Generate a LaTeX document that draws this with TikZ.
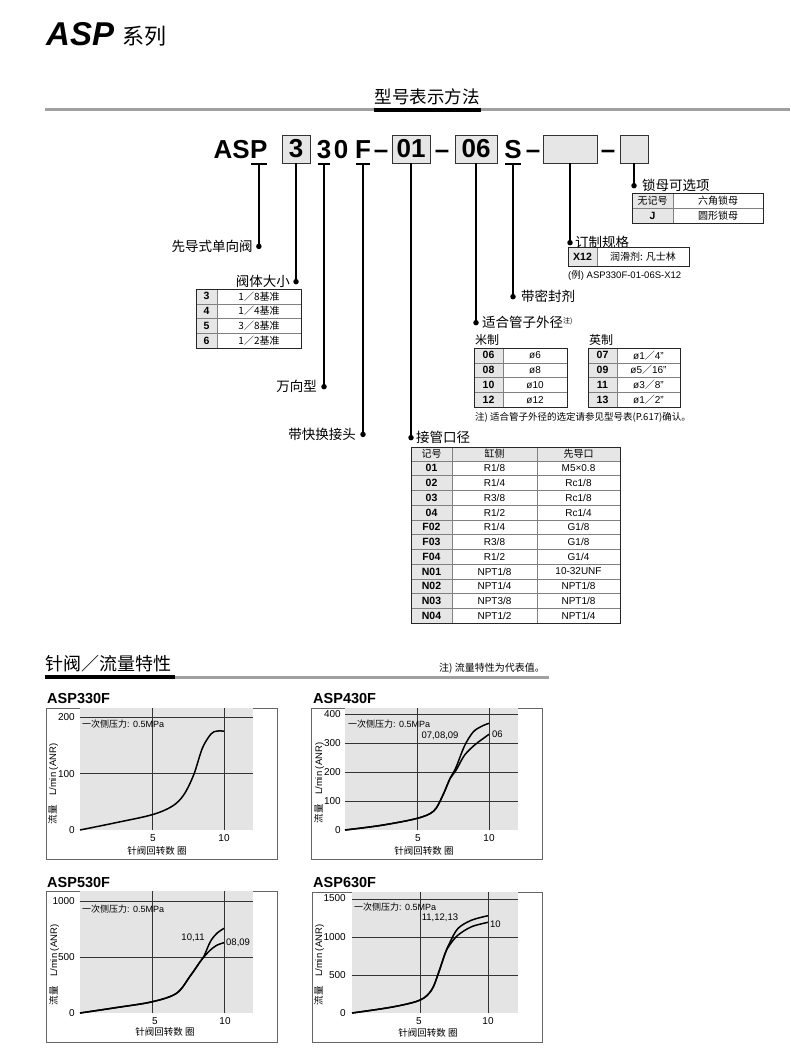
\documentclass[tikz,border=0pt]{standalone}
\usepackage{fontspec}
\setmainfont{Liberation Sans}
\newfontfamily\cjk{Noto Sans CJK SC}
\usetikzlibrary{positioning}
\definecolor{boxGray}{RGB}{230,230,230}
\definecolor{plotGray}{RGB}{228,228,228}
\definecolor{ruleGray}{RGB}{160,160,160}
\newcommand\fsz[1]{\fontsize{#1}{#1}\selectfont}

\begin{document}
\begin{tikzpicture}[x=1pt, y=-1pt,
        codeChar/.style={font=\fsz{26}\bfseries, inner sep=0pt, anchor=base},
        codeBox/.style={draw=black!80, fill=boxGray, line width=0.9pt, minimum height=28pt, inner sep=0pt, font=\fsz{26}\bfseries},
        tagDot/.style={circle, fill=black, inner sep=0pt, minimum size=5.5pt},
        leaderLine/.style={line width=1.6pt},
        tagLabel/.style={font=\cjk\fsz{13.5}, inner sep=1pt},
        cellText/.style={font=\fsz{10}, inner sep=0pt},
        cellBold/.style={font=\fsz{10.5}\bfseries, inner sep=0pt},
        cellCjk/.style={font=\cjk\fsz{10}, inner sep=0pt},
        tabOuter/.style={line width=0.9pt, draw=black!85},
        tabInner/.style={line width=0.5pt, draw=black!50},
        plotFrame/.style={line width=0.7pt, draw=black!60},
        gridLine/.style={line width=0.9pt, draw=black!80},
        flowCurve/.style={line width=1.5pt, line join=round},
        tickLabel/.style={font=\fsz{10}, inner sep=0pt},
        chartTitle/.style={font=\fsz{14.5}\bfseries, inner sep=0pt, anchor=base west},
        chartNote/.style={font=\fsz{9}, inner sep=0pt}
    ]
    \useasboundingbox (0,0) rectangle (790,1062);

    % page header
    \node[anchor=base west, inner sep=0pt] (hdrASP) at (46,46) {\fsz{33}\bfseries\itshape ASP};
    \node[anchor=base west, inner sep=0pt] (hdrSeries) at (122,45) {\cjk\fsz{22}系列};

    % how to order
    \node[font=\cjk\fsz{17.5}, inner sep=0pt] (secCode) at (427,97) {型号表示方法};
    \draw[ruleGray, line width=3pt] (45,110) -- (790,110);
    \draw[line width=4pt] (374,110) -- (481,110);

    \node[codeChar, anchor=base east] (cAS) at (250,158.5) {AS};
    \node[codeChar, anchor=base west] (cP) at (250,158.5) {P};
    \node[codeBox, minimum width=28pt] (b3) at (296,149) {3};
    \node[codeChar] (c3) at (324,158.5) {3};
    \node[codeChar] (c0) at (341,158.5) {0};
    \node[codeChar] (cF) at (363,158.5) {F};
    \node[codeChar] (dash1) at (381,158.5) {–};
    \node[codeBox, minimum width=38pt] (b01) at (411,149) {01};
    \node[codeChar] (dash2) at (442,158.5) {–};
    \node[codeBox, minimum width=42pt] (b06) at (476,149) {06};
    \node[codeChar] (cS) at (513,158.5) {S};
    \node[codeChar] (dash3) at (533,158.5) {–};
    \node[codeBox, minimum width=54pt] (bSpec) at (570,149) {};
    \node[codeChar] (dash4) at (608,158.5) {–};
    \node[codeBox, minimum width=28pt] (bNut) at (634,149) {};

    \draw[leaderLine] ([xshift=1pt,yshift=-5pt]cP.south west) -- ([xshift=-1pt,yshift=-5pt]cP.south east);
    \draw[leaderLine] ([xshift=1pt,yshift=-5pt]c3.south west) -- ([xshift=-1pt,yshift=-5pt]c3.south east);
    \draw[leaderLine] ([xshift=1pt,yshift=-5pt]cF.south west) -- ([xshift=-1pt,yshift=-5pt]cF.south east);
    \draw[leaderLine] ([xshift=1pt,yshift=-5pt]cS.south west) -- ([xshift=-1pt,yshift=-5pt]cS.south east);

    \node[tagDot, below=84.75pt of cP] (dPilot) {};
    \node[tagDot, below=115.25pt of b3] (dSize) {};
    \node[tagDot, below=224.75pt of c3] (dType) {};
    \node[tagDot, below=272.75pt of cF] (dFit) {};
    \node[tagDot, below=271.25pt of b01] (dPort) {};
    \node[tagDot, below=156.25pt of b06] (dTube) {};
    \node[tagDot, below=134.75pt of cS] (dSeal) {};
    \node[tagDot, below=76.25pt of bSpec] (dSpec) {};
    \node[tagDot, below=19.25pt of bNut] (dNut) {};

    \draw[leaderLine] ([yshift=-5pt]cP.south) -- (dPilot.center);
    \draw[leaderLine] (b3.south) -- (dSize.center);
    \draw[leaderLine] ([yshift=-5pt]c3.south) -- (dType.center);
    \draw[leaderLine] ([yshift=-5pt]cF.south) -- (dFit.center);
    \draw[leaderLine] (b01.south) -- (dPort.center);
    \draw[leaderLine] (b06.south) -- (dTube.center);
    \draw[leaderLine] ([yshift=-5pt]cS.south) -- (dSeal.center);
    \draw[leaderLine] (bSpec.south) -- (dSpec.center);
    \draw[leaderLine] (bNut.south) -- (dNut.center);

    \node[tagLabel, left=2pt of dPilot] (lPilot) {先导式单向阀};
    \node[tagLabel, left=2pt of dSize] (lSize) {阀体大小};
    \node[tagLabel, left=3pt of dType] (lType) {万向型};
    \node[tagLabel, left=3pt of dFit] (lFit) {带快换接头};
    \node[tagLabel, right=1pt of dPort] (lPort) {接管口径};
    \node[tagLabel, right=2pt of dTube] (lTube) {适合管子外径\raisebox{4pt}{\fsz{7}注)}};
    \node[tagLabel, right=4pt of dSeal] (lSeal) {带密封剂};
    \node[tagLabel, right=1pt of dSpec] (lSpec) {订制规格};
    \node[tagLabel, right=4pt of dNut] (lNut) {锁母可选项};

    % valve size table
    \fill[boxGray] (196,289) rectangle (217,348);
    \foreach \r in {1,2,3}
        \draw[tabInner] (196,{289+\r*14.75}) -- (301,{289+\r*14.75});
    \draw[tabInner] (217,289) -- (217,348);
    \draw[tabOuter] (196,289) rectangle (301,348);
    \foreach \k/\v [count=\i from 0] in {3/{1／8基准}, 4/{1／4基准}, 5/{3／8基准}, 6/{1／2基准}} {
        \node[cellBold] (sz\k) at (206.5,{289+(\i+0.5)*14.75}) {\k};
        \node[cellCjk] (szv\k) at (259,{289+(\i+0.5)*14.75}) {\v};
    }

    % lock nut table
    \fill[boxGray] (632,193) rectangle (673,223);
    \draw[tabInner] (632,208) -- (763,208) (673,193) -- (673,223);
    \draw[tabOuter] (632,193) rectangle (763,223);
    \node[cellCjk] (nutNone) at (652.5,200.5) {无记号};
    \node[cellCjk] (nutHex) at (718,200.5) {六角锁母};
    \node[cellBold] (nutJ) at (652.5,215.5) {J};
    \node[cellCjk] (nutRound) at (718,215.5) {圆形锁母};

    % made to order table
    \fill[boxGray] (568,247) rectangle (597,266);
    \draw[tabInner] (597,247) -- (597,266);
    \draw[tabOuter] (568,247) rectangle (689,266);
    \node[cellBold] (specX) at (582.5,256.5) {X12};
    \node[cellCjk] (specTxt) at (643,256.5) {润滑剂: 凡士林};
    \node[font=\fsz{9.5}, inner sep=0pt, anchor=west] (specEx) at (568,275) {({\cjk 例}) ASP330F-01-06S-X12};

    % tube O.D. tables
    \node[font=\cjk\fsz{12}, inner sep=0pt, anchor=west] (metTitle) at (475,340) {米制};
    \node[font=\cjk\fsz{12}, inner sep=0pt, anchor=west] (inchTitle) at (589,340) {英制};
    \fill[boxGray] (474,348) rectangle (503,407);
    \fill[boxGray] (588,348) rectangle (617,407);
    \foreach \r in {1,2,3} {
        \draw[tabInner] (474,{348+\r*14.75}) -- (567,{348+\r*14.75});
        \draw[tabInner] (588,{348+\r*14.75}) -- (680,{348+\r*14.75});
    }
    \draw[tabInner] (503,348) -- (503,407) (617,348) -- (617,407);
    \draw[tabOuter] (474,348) rectangle (567,407);
    \draw[tabOuter] (588,348) rectangle (680,407);
    \foreach \k/\v [count=\i from 0] in {06/ø6, 08/ø8, 10/ø10, 12/ø12} {
        \node[cellBold] (met\k) at (488.5,{348+(\i+0.5)*14.75}) {\k};
        \node[cellText] (metv\k) at (535,{348+(\i+0.5)*14.75}) {\v};
    }
    \foreach \k/\v [count=\i from 0] in {07/{ø1{\cjk ／}4"}, 09/{ø5{\cjk ／}16"}, 11/{ø3{\cjk ／}8"}, 13/{ø1{\cjk ／}2"}} {
        \node[cellBold] (inch\k) at (602.5,{348+(\i+0.5)*14.75}) {\k};
        \node[cellText] (inchv\k) at (648.5,{348+(\i+0.5)*14.75}) {\v};
    }
    \node[font=\cjk\fsz{9.5}, inner sep=0pt, anchor=west] (tubeNote) at (475,417) {注) 适合管子外径的选定请参见型号表(P.617)确认。};

    % port size table
    \fill[boxGray] (411,447) rectangle (620,461);
    \fill[boxGray] (411,461) rectangle (452,623);
    \foreach \r in {1,...,10}
        \draw[tabInner] (411,{461+\r*14.73}) -- (620,{461+\r*14.73});
    \draw[tabInner] (411,461) -- (620,461) (452,447) -- (452,623) (537,447) -- (537,623);
    \draw[tabOuter] (411,447) rectangle (620,623);
    \node[cellCjk] (portHk) at (431.5,454) {记号};
    \node[cellCjk] (portHa) at (494.5,454) {缸侧};
    \node[cellCjk] (portHb) at (578.5,454) {先导口};
    \foreach \k/\a/\b [count=\i from 0] in {01/{R1/8}/{M5×0.8}, 02/{R1/4}/{Rc1/8}, 03/{R3/8}/{Rc1/8}, 04/{R1/2}/{Rc1/4},
            F02/{R1/4}/{G1/8}, F03/{R3/8}/{G1/8}, F04/{R1/2}/{G1/4}, N01/{NPT1/8}/{10-32UNF},
            N02/{NPT1/4}/{NPT1/8}, N03/{NPT3/8}/{NPT1/8}, N04/{NPT1/2}/{NPT1/4}} {
        \node[cellBold] (pk\k) at (431.5,{461+(\i+0.5)*14.73}) {\k};
        \node[cellText] (pa\k) at (494.5,{461+(\i+0.5)*14.73}) {\a};
        \node[cellText] (pb\k) at (578.5,{461+(\i+0.5)*14.73}) {\b};
    }

    % flow characteristics
    \node[font=\cjk\fsz{18}, inner sep=0pt, anchor=west] (secFlow) at (45,664) {针阀／流量特性};
    \draw[ruleGray, line width=3pt] (175,677) -- (549,677);
    \draw[line width=4pt] (45,677) -- (175,677);
    \node[font=\cjk\fsz{10}, inner sep=0pt, anchor=base east] (flowNote) at (545,671) {注) 流量特性为代表值。};

    % ASP330F
    \node[chartTitle] (t330) at (47,703.5) {ASP330F};
    \draw[plotFrame] (46,708) rectangle (277,859);
    \begin{scope}[shift={(80,830)}, xscale=14.4, yscale=-0.565]
        \fill[plotGray] (0,0) rectangle (12,216);
        \draw[gridLine] (5,0) -- (5,216) (10,0) -- (10,216) (0,100) -- (12,100) (0,200) -- (12,200);
        \draw[flowCurve] plot[smooth, tension=0.55] coordinates {(0,0) (2.5,13) (5,27) (6.4,42) (7.2,62) (7.9,98) (8.5,145) (9.1,170) (9.5,175) (10,175)};
    \end{scope}
    \node[tickLabel, anchor=east] (y330a) at (75,717) {200};
    \node[tickLabel, anchor=east] (y330b) at (75,774) {100};
    \node[tickLabel, anchor=east] (y330c) at (75,830) {0};
    \node[tickLabel, anchor=north] (x330a) at (153,834) {5};
    \node[tickLabel, anchor=north] (x330b) at (224,834) {10};
    \node[font=\cjk\fsz{9.5}, inner sep=0pt] (xl330) at (157,851) {针阀回转数 圈};
    \node[font=\fsz{9.5}, inner sep=0pt, rotate=90] (yl330) at (53,784) {{\cjk 流量}\quad L/min (ANR)};
    \node[chartNote, anchor=west] (p330) at (82,724) {{\cjk 一次侧压力}: 0.5MPa};

    % ASP430F
    \node[chartTitle] (t430) at (313,703.5) {ASP430F};
    \draw[plotFrame] (311,708) rectangle (542,859);
    \begin{scope}[shift={(345,830)}, xscale=14.4, yscale=-0.29]
        \fill[plotGray] (0,0) rectangle (12,421);
        \draw[gridLine] (5,0) -- (5,421) (10,0) -- (10,421);
        \foreach \f in {100,200,300,400}
            \draw[gridLine] (0,\f) -- (12,\f);
        \draw[flowCurve] plot[smooth, tension=0.55] coordinates {(0,0) (2.5,16) (5,40) (6.15,65) (6.75,115) (7.3,178) (7.7,215) (8.3,290) (8.9,338) (9.5,358) (10,368)};
        \draw[flowCurve] plot[smooth, tension=0.55] coordinates {(0,0) (2.5,16) (5,40) (6.15,65) (6.75,115) (7.3,178) (7.7,205) (8.3,258) (9.0,293) (9.5,312) (10,330)};
    \end{scope}
    \foreach \f/\yy in {400/714, 300/743, 200/772, 100/801, 0/830}
        \node[tickLabel, anchor=east] (y430\f) at (341,\yy) {\f};
    \node[tickLabel, anchor=north] (x430a) at (418,834) {5};
    \node[tickLabel, anchor=north] (x430b) at (489,834) {10};
    \node[font=\cjk\fsz{9.5}, inner sep=0pt] (xl430) at (424,851) {针阀回转数 圈};
    \node[font=\fsz{9.5}, inner sep=0pt, rotate=90] (yl430) at (319,783) {{\cjk 流量}\quad L/min (ANR)};
    \node[chartNote, anchor=west] (p430) at (348,724) {{\cjk 一次侧压力}: 0.5MPa};
    \node[font=\fsz{9.5}, inner sep=0pt] (c430a) at (440,736) {07,08,09};
    \node[font=\fsz{9.5}, inner sep=0pt, anchor=west] (c430b) at (492,734) {06};

    % ASP530F
    \node[chartTitle] (t530) at (47,887) {ASP530F};
    \draw[plotFrame] (46,891) rectangle (277,1042);
    \begin{scope}[shift={(80,1013)}, xscale=14.4, yscale=-0.112]
        \fill[plotGray] (0,0) rectangle (12,1089);
        \draw[gridLine] (5,0) -- (5,1089) (10,0) -- (10,1089) (0,500) -- (12,500) (0,1000) -- (12,1000);
        \draw[flowCurve] plot[smooth, tension=0.55] coordinates {(0,0) (2.5,48) (5,100) (6.7,176) (7.65,330) (8.3,450) (8.6,505) (9.05,637) (9.5,711) (10,756)};
        \draw[flowCurve] plot[smooth, tension=0.55] coordinates {(0,0) (2.5,48) (5,100) (6.7,176) (7.65,330) (8.3,450) (8.6,500) (9.05,562) (9.5,605) (10,628)};
    \end{scope}
    \node[tickLabel, anchor=east] (y530a) at (75,901) {1000};
    \node[tickLabel, anchor=east] (y530b) at (75,957) {500};
    \node[tickLabel, anchor=east] (y530c) at (75,1013) {0};
    \node[tickLabel, anchor=north] (x530a) at (155,1017) {5};
    \node[tickLabel, anchor=north] (x530b) at (225,1017) {10};
    \node[font=\cjk\fsz{9.5}, inner sep=0pt] (xl530) at (165,1032) {针阀回转数 圈};
    \node[font=\fsz{9.5}, inner sep=0pt, rotate=90] (yl530) at (54,965) {{\cjk 流量}\quad L/min (ANR)};
    \node[chartNote, anchor=west] (p530) at (82,909) {{\cjk 一次侧压力}: 0.5MPa};
    \node[font=\fsz{9.5}, inner sep=0pt] (c530a) at (193,938) {10,11};
    \node[font=\fsz{9.5}, inner sep=0pt, anchor=west] (c530b) at (226,943) {08,09};

    % ASP630F
    \node[chartTitle] (t630) at (313,887) {ASP630F};
    \draw[plotFrame] (312,892) rectangle (542,1042);
    \begin{scope}[shift={(352,1013)}, xscale=13.6, yscale=-0.076]
        \fill[plotGray] (0,0) rectangle (12.2,1592);
        \draw[gridLine] (5,0) -- (5,1592) (10,0) -- (10,1592);
        \foreach \f in {500,1000,1500}
            \draw[gridLine] (0,\f) -- (12.2,\f);
        \draw[flowCurve] plot[smooth, tension=0.55] coordinates {(0,0) (3,80) (5,170) (5.85,303) (6.35,522) (6.85,785) (7.2,930) (7.8,1114) (8.8,1222) (10,1280)};
        \draw[flowCurve] plot[smooth, tension=0.55] coordinates {(0,0) (3,80) (5,170) (5.85,303) (6.35,522) (6.85,785) (7.2,900) (7.8,1026) (8.8,1136) (10,1193)};
    \end{scope}
    \foreach \f/\yy in {1500/898, 1000/937, 500/975, 0/1013}
        \node[tickLabel, anchor=east] (y630\f) at (346,\yy) {\f};
    \node[tickLabel, anchor=north] (x630a) at (419,1017) {5};
    \node[tickLabel, anchor=north] (x630b) at (488,1017) {10};
    \node[font=\cjk\fsz{9.5}, inner sep=0pt] (xl630) at (428,1033) {针阀回转数 圈};
    \node[font=\fsz{9.5}, inner sep=0pt, rotate=90] (yl630) at (319,965) {{\cjk 流量}\quad L/min (ANR)};
    \node[chartNote, anchor=west] (p630) at (354,907) {{\cjk 一次侧压力}: 0.5MPa};
    \node[font=\fsz{9.5}, inner sep=0pt] (c630a) at (440,918) {11,12,13};
    \node[font=\fsz{9.5}, inner sep=0pt, anchor=west] (c630b) at (490,924) {10};
\end{tikzpicture}
\end{document}
